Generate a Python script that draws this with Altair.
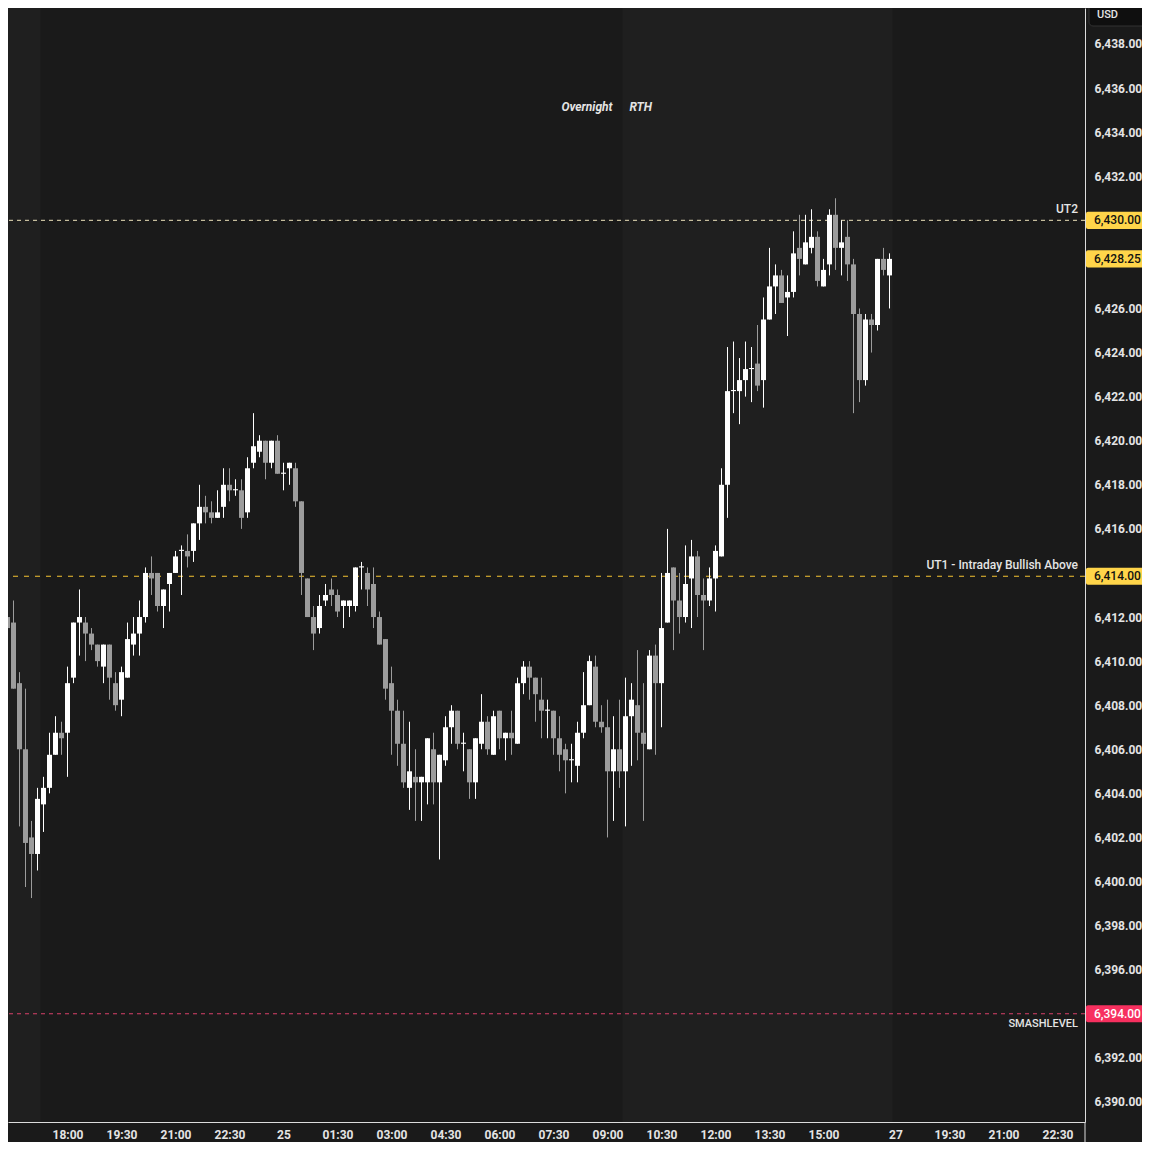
import altair as alt
import pandas as pd
import json

# ---------------- data (10-minute candles, bar 0 = 18:00 session open) ----------------
bar_index = list(range(-11, 138))

opens = [
    6409.75, 6412.0, 6411.75, 6409.0, 6406.0, 6402.0, 6401.25, 6403.5, 6404.25, 6405.75,
    6406.75, 6406.75, 6409.25, 6411.75, 6411.75, 6411.25, 6410.75, 6409.75, 6410.75, 6409.0,
    6408.25, 6409.25, 6410.75, 6411.25, 6412.0, 6414.0, 6414.0, 6412.5, 6413.5, 6414.0,
    6415.0, 6415.0, 6415.0, 6416.25, 6417.0, 6416.75, 6416.5, 6417.0, 6418.0, 6417.75,
    6417.75, 6416.75, 6419.0, 6419.5, 6420.0, 6419.0, 6420.0, 6418.5, 6418.75, 6418.75,
    6417.25, 6413.75, 6412.0, 6411.5, 6412.75, 6413.25, 6413.0, 6412.5, 6412.5, 6412.5,
    6414.25, 6414.0, 6413.5, 6412.0, 6411.0, 6409.0, 6407.75, 6406.25, 6404.25, 6404.75,
    6404.5, 6404.5, 6406.0, 6404.5, 6405.5, 6407.0, 6407.75, 6406.25, 6406.0, 6404.5,
    6406.25, 6407.25, 6405.75, 6407.75, 6406.5, 6406.75, 6406.25, 6409.0, 6409.75, 6409.25,
    6408.25, 6407.75, 6407.75, 6406.5, 6406.0, 6405.5, 6405.25, 6406.75, 6408.0, 6409.75,
    6407.25, 6407.0, 6405.0, 6406.0, 6405.0, 6407.5, 6408.0, 6406.75, 6406.0, 6410.25,
    6409.0, 6411.75, 6414.25, 6412.75, 6412.0, 6413.75, 6414.75, 6413.0, 6412.75, 6413.75,
    6414.75, 6418.0, 6422.25, 6422.25, 6422.75, 6423.25, 6423.5, 6422.75, 6425.5, 6427.0,
    6427.5, 6426.5, 6426.75, 6428.75, 6428.0, 6428.75, 6429.25, 6427.0, 6428.0, 6430.25,
    6428.75, 6429.25, 6428.0, 6425.75, 6422.75, 6425.5, 6425.25, 6428.25, 6427.5,
]

highs = [
    6412.75, 6413.75, 6412.75, 6409.5, 6408.75, 6402.75, 6404.25, 6404.75, 6406.75, 6407.5,
    6407.25, 6409.75, 6411.75, 6413.25, 6412.0, 6411.5, 6410.75, 6410.75, 6410.75, 6409.5,
    6409.75, 6411.75, 6412.0, 6412.75, 6414.25, 6414.75, 6414.0, 6413.25, 6414.0, 6415.0,
    6415.25, 6415.75, 6416.25, 6418.0, 6417.5, 6417.25, 6417.75, 6418.75, 6418.75, 6418.25,
    6418.25, 6419.25, 6421.25, 6420.25, 6420.0, 6420.0, 6420.25, 6419.0, 6419.0, 6419.0,
    6417.25, 6413.75, 6412.5, 6413.0, 6413.5, 6413.75, 6413.25, 6412.75, 6412.75, 6414.25,
    6414.5, 6414.25, 6414.25, 6412.25, 6411.0, 6409.75, 6408.25, 6407.75, 6407.25, 6406.0,
    6404.75, 6406.5, 6406.75, 6405.75, 6407.5, 6408.0, 6407.75, 6406.75, 6406.0, 6406.5,
    6408.5, 6407.5, 6407.75, 6407.75, 6406.75, 6407.75, 6409.25, 6410.0, 6410.0, 6409.25,
    6409.25, 6408.25, 6407.75, 6407.5, 6406.25, 6406.25, 6407.25, 6409.5, 6410.25, 6410.25,
    6408.0, 6408.25, 6407.5, 6408.25, 6409.25, 6409.0, 6410.5, 6409.0, 6410.5, 6410.75,
    6414.0, 6416.0, 6414.25, 6414.0, 6415.25, 6415.5, 6415.0, 6413.75, 6414.25, 6415.25,
    6418.75, 6424.25, 6424.5, 6423.75, 6424.5, 6424.25, 6425.25, 6426.5, 6428.75, 6428.0,
    6427.75, 6427.5, 6429.5, 6430.25, 6430.25, 6430.5, 6429.5, 6428.25, 6430.5, 6431.0,
    6430.0, 6430.0, 6428.25, 6426.0, 6425.75, 6425.75, 6428.25, 6428.75, 6428.5,
]

lows = [
    6409.75, 6409.75, 6408.75, 6402.5, 6399.75, 6399.25, 6400.5, 6402.25, 6404.0, 6405.75,
    6405.75, 6404.75, 6409.0, 6410.25, 6410.0, 6410.5, 6409.75, 6409.0, 6408.25, 6407.75,
    6407.5, 6409.25, 6410.25, 6410.25, 6411.75, 6413.0, 6412.25, 6411.5, 6412.25, 6414.0,
    6413.0, 6414.25, 6414.5, 6415.5, 6416.25, 6416.25, 6416.5, 6416.5, 6417.25, 6417.5,
    6416.0, 6416.5, 6418.75, 6419.25, 6418.25, 6418.75, 6418.5, 6417.75, 6418.0, 6417.0,
    6413.0, 6412.0, 6410.5, 6411.25, 6412.5, 6412.5, 6412.0, 6411.5, 6412.0, 6412.25,
    6413.25, 6412.5, 6411.5, 6410.75, 6408.25, 6405.75, 6405.25, 6404.25, 6403.25, 6402.75,
    6402.75, 6403.5, 6403.5, 6401.0, 6405.25, 6406.25, 6406.0, 6405.0, 6403.75, 6403.75,
    6406.0, 6405.75, 6405.75, 6406.0, 6405.5, 6405.75, 6406.25, 6408.5, 6408.25, 6407.25,
    6406.5, 6406.5, 6405.75, 6405.0, 6404.0, 6404.5, 6404.5, 6406.5, 6408.0, 6407.0,
    6406.75, 6402.0, 6402.75, 6404.25, 6402.5, 6405.25, 6405.5, 6402.75, 6406.0, 6405.75,
    6407.0, 6411.75, 6410.5, 6411.25, 6411.75, 6411.5, 6412.0, 6410.5, 6412.5, 6412.25,
    6414.75, 6416.5, 6421.25, 6420.75, 6422.0, 6421.75, 6422.25, 6421.5, 6425.5, 6425.75,
    6426.25, 6424.75, 6426.5, 6427.5, 6428.0, 6428.5, 6427.0, 6427.0, 6427.5, 6427.75,
    6427.5, 6427.25, 6421.25, 6421.75, 6422.5, 6424.0, 6425.0, 6427.5, 6426.0,
]

closes = [
    6412.25, 6411.5, 6408.75, 6406.0, 6401.75, 6401.25, 6403.75, 6404.25, 6405.75, 6406.75,
    6406.5, 6409.0, 6411.75, 6412.0, 6411.25, 6410.75, 6410.0, 6410.75, 6409.25, 6408.0,
    6409.5, 6411.0, 6411.25, 6412.0, 6414.0, 6413.75, 6412.5, 6413.25, 6414.0, 6414.75,
    6415.0, 6414.75, 6416.25, 6417.0, 6416.75, 6416.5, 6416.75, 6418.0, 6417.75, 6417.75,
    6416.5, 6418.75, 6419.75, 6420.0, 6419.0, 6420.0, 6418.5, 6418.5, 6419.0, 6417.25,
    6414.0, 6412.0, 6411.25, 6412.5, 6413.0, 6413.0, 6412.25, 6412.75, 6412.75, 6414.25,
    6414.25, 6413.25, 6412.0, 6410.75, 6408.75, 6407.75, 6406.25, 6404.5, 6405.0, 6404.5,
    6404.75, 6406.5, 6404.5, 6405.75, 6407.0, 6407.75, 6406.25, 6406.25, 6404.5, 6406.5,
    6407.25, 6406.0, 6407.5, 6406.5, 6406.75, 6406.5, 6409.0, 6409.75, 6409.25, 6408.5,
    6407.75, 6407.75, 6406.5, 6405.75, 6405.5, 6405.5, 6406.75, 6408.0, 6410.0, 6407.25,
    6407.0, 6405.0, 6406.0, 6405.0, 6407.5, 6408.25, 6406.75, 6406.25, 6410.25, 6409.0,
    6411.5, 6414.0, 6412.75, 6412.0, 6413.5, 6414.75, 6413.0, 6412.75, 6413.75, 6415.0,
    6418.0, 6422.25, 6422.25, 6422.75, 6423.25, 6423.25, 6422.5, 6425.5, 6427.0, 6427.5,
    6426.25, 6426.75, 6428.5, 6428.25, 6429.0, 6429.25, 6427.25, 6427.75, 6430.25, 6428.75,
    6429.0, 6428.0, 6425.75, 6422.75, 6425.5, 6425.25, 6428.25, 6427.75, 6428.25,
]

level_names = ["UT2", "UT1 - Intraday Bullish Above", "SMASHLEVEL"]
level_prices = [6430.0, 6413.85, 6394.0]
level_tags = ["6,430.00", "6,414.00", "6,394.00"]

last_price = 6428.25
last_tag = "6,428.25"

tick_bars = [-12, 0, 9, 18, 27, 36, 45, 54, 63, 72, 81, 90, 99, 108, 117, 126, 138, 147, 156, 165]
tick_labels = ["15:00", "18:00", "19:30", "21:00", "22:30", "25", "01:30", "03:00", "04:30",
               "06:00", "07:30", "09:00", "10:30", "12:00", "13:30", "15:00", "27", "19:30",
               "21:00", "22:30"]

# price-scale ticks (those hidden behind the coloured price tags are left out)
price_ticks = [p for p in range(6390, 6440, 2) if p not in (6394, 6414, 6428, 6430)]

rth_start = [-12.0, 92.5]
rth_end = [-4.5, 137.5]
session_names = ["Overnight", "RTH"]
session_anchor = [92.5, 92.5]

# ---------------- layout / style ----------------
PW, PH = 1077, 1114
BG = "#1a1a1a"
RTH_BG = "#1f1f1f"
UP = "#ffffff"
DOWN = "#9c9c9c"
TXT = "#e4e4e4"
FONT = "Roboto"

xscale = alt.Scale(domain=[-9.9167, 169.5833], nice=False, zero=False, padding=0)
yscale = alt.Scale(domain=[6389.089, 6439.633], nice=False, zero=False, padding=0)

label_expr = f"{json.dumps(tick_labels)}[indexof({json.dumps(tick_bars)}, datum.value)]"

xaxis = alt.Axis(values=tick_bars, labelExpr=label_expr, ticks=False, grid=False,
                 domainColor="#dcdcdc", domainWidth=1, labelColor=TXT, labelFont=FONT,
                 labelFontSize=12, labelFontWeight="bold", labelPadding=7, labelFlush=False,
                 labelOverlap=False, title=None, orient="bottom")
yaxis = alt.Axis(values=price_ticks, format=",.2f", ticks=False, grid=False,
                 domainColor="#dcdcdc", domainWidth=1, labelColor=TXT, labelFont=FONT,
                 labelFontSize=12, labelFontWeight="bold", labelPadding=9, labelFlush=False,
                 labelOverlap=False, title=None, orient="right")


def xenc(f):
    return alt.X(f"{f}:Q", scale=xscale, axis=xaxis)


def yenc(f):
    return alt.Y(f"{f}:Q", scale=yscale, axis=yaxis)


candles = pd.DataFrame({"i": bar_index, "o": opens, "h": highs, "l": lows, "c": closes})
levels = pd.DataFrame({"name": level_names, "p": level_prices, "tag": level_tags})
boxes = pd.DataFrame({"key": ["UT2", "last", "UT1", "SMASH"],
                      "p": [level_prices[0], last_price, level_prices[1], level_prices[2]],
                      "tag": [level_tags[0], last_tag, level_tags[1], level_tags[2]]})
sessions = pd.DataFrame({"s": rth_start, "e": rth_end})
sess_lab = pd.DataFrame({"name": session_names, "a": session_anchor})
one = pd.DataFrame({"t": ["USD"]})

base_c = alt.Chart(candles).transform_calculate(
    up="datum.c >= datum.o",
    lo="min(datum.o, datum.c)",
    hi="max(datum.o, datum.c) - min(datum.o, datum.c) < 0.05 ? min(datum.o, datum.c) + 0.05 : max(datum.o, datum.c)",
)

rth_bg = alt.Chart(sessions).mark_rect(color=RTH_BG, clip=True).encode(
    x=xenc("s"), x2="e:Q", y=alt.value(0), y2=alt.value(PH))

level_style = {
    "UT2": dict(color="#eee3bb", strokeDash=[4, 4]),
    "UT1 - Intraday Bullish Above": dict(color="#f5c332", strokeDash=[5, 6]),
    "SMASHLEVEL": dict(color="#d9406a", strokeDash=[4, 4]),
}
level_layers = []
for nm, st in level_style.items():
    level_layers.append(
        alt.Chart(levels).transform_filter(alt.datum.name == nm)
        .mark_rule(strokeWidth=1, **st).encode(y=yenc("p")))

wick_up = base_c.transform_filter("datum.up").mark_rule(color=UP, strokeWidth=1, clip=True).encode(
    x=xenc("i"), y=yenc("l"), y2="h:Q")
wick_dn = base_c.transform_filter("!datum.up").mark_rule(color=DOWN, strokeWidth=1, clip=True).encode(
    x=xenc("i"), y=yenc("l"), y2="h:Q")
body_up = base_c.transform_filter("datum.up").mark_bar(color=UP, size=5, clip=True).encode(
    x=xenc("i"), y=yenc("lo"), y2="hi:Q")
body_dn = base_c.transform_filter("!datum.up").mark_bar(color=DOWN, size=5, clip=True).encode(
    x=xenc("i"), y=yenc("lo"), y2="hi:Q")

lab_above = alt.Chart(levels).transform_filter(alt.datum.name != "SMASHLEVEL").mark_text(
    align="right", baseline="middle", dy=-11, font=FONT, fontSize=12, fontWeight=500, color=TXT
).encode(x=alt.value(PW - 7), y=yenc("p"), text="name:N")
lab_below = alt.Chart(levels).transform_filter(alt.datum.name == "SMASHLEVEL").mark_text(
    align="right", baseline="middle", dy=10, font=FONT, fontSize=11, fontWeight=500, color=TXT
).encode(x=alt.value(PW - 7), y=yenc("p"), text="name:N")

box_fill = {"UT2": "#ffd54a", "last": "#ffd54a", "UT1": "#ffd54a", "SMASH": "#f7305f"}
box_text = {"UT2": "#111111", "last": "#111111", "UT1": "#111111", "SMASH": "#ffffff"}
box_layers = []
for k in ["UT2", "last", "UT1", "SMASH"]:
    b = alt.Chart(boxes).transform_filter(alt.datum.key == k).transform_calculate(
        blo="datum.p - 0.39", bhi="datum.p + 0.39")
    box_layers.append(b.mark_rect(color=box_fill[k], cornerRadius=2).encode(
        x=alt.value(PW + 1), x2=alt.value(PW + 61), y=yenc("blo"), y2="bhi:Q"))
    box_layers.append(b.mark_text(align="left", baseline="middle", font=FONT, fontSize=12,
                                  fontWeight=500, color=box_text[k]).encode(
        x=alt.value(PW + 9), y=yenc("p"), text="tag:N"))

sess_over = alt.Chart(sess_lab).transform_filter(alt.datum.name == "Overnight").mark_text(
    align="right", baseline="middle", dx=-10, font=FONT, fontSize=12, fontStyle="italic",
    fontWeight="bold", color=TXT).encode(x=xenc("a"), y=alt.value(99), text="name:N")
sess_rth = alt.Chart(sess_lab).transform_filter(alt.datum.name == "RTH").mark_text(
    align="left", baseline="middle", dx=7, font=FONT, fontSize=12, fontStyle="italic",
    fontWeight="bold", color=TXT).encode(x=xenc("a"), y=alt.value(99), text="name:N")

usd_box = alt.Chart(one).mark_rect(fill="#0f0f0f", stroke="#333333", strokeWidth=1,
                                   cornerRadius=4).encode(
    x=alt.value(PW + 4), x2=alt.value(PW + 61), y=alt.value(-10), y2=alt.value(18))
usd_txt = alt.Chart(one).mark_text(align="left", baseline="middle", font=FONT, fontSize=11,
                                   fontWeight=500, color=TXT).encode(
    x=alt.value(PW + 12), y=alt.value(7), text="t:N")
axis_ext = alt.Chart(one).mark_rule(color="#dcdcdc", strokeWidth=1).encode(
    x=alt.value(PW), y=alt.value(PH), y2=alt.value(PH + 30))

chart = alt.layer(
    rth_bg, *level_layers, wick_dn, wick_up, body_dn, body_up,
    lab_above, lab_below, sess_over, sess_rth, *box_layers, usd_box, usd_txt, axis_ext
).properties(
    width=PW, height=PH,
    autosize=alt.AutoSizeParams(type="none"),
    padding={"left": 0, "top": 0, "right": 57, "bottom": 20},
    background=BG,
).configure_view(stroke=None)

chart.save("out.html", embed_options={"renderer": "svg", "actions": False})
